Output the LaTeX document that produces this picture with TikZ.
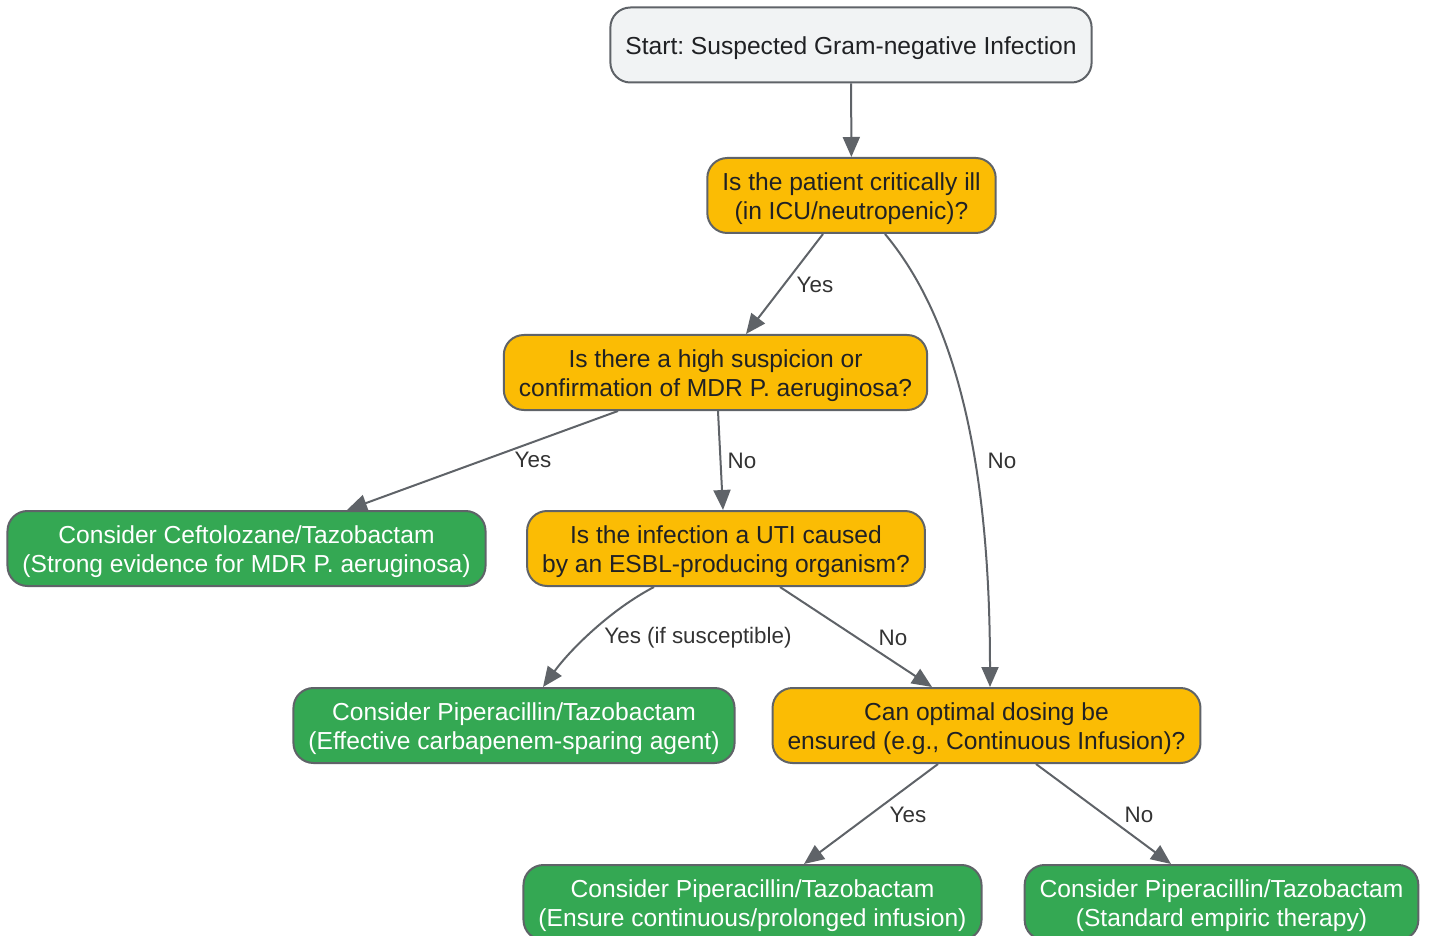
\documentclass[tikz,border=0pt]{standalone}
\usepackage{fontspec}
\setmainfont{Liberation Sans}
\usepackage{tikz}
\usetikzlibrary{arrows.meta}
\definecolor{edgegray}{HTML}{5F6368}
\definecolor{startgray}{HTML}{F1F3F4}
\definecolor{askyellow}{HTML}{FBBC04}
\definecolor{drugreen}{HTML}{34A853}
\definecolor{darktext}{HTML}{202124}
\definecolor{labeltext}{HTML}{333333}
\frenchspacing
% taller first line, so the text sits a little lower in its box
\newcommand{\toprow}{\rule{0pt}{12.4pt}}

\begin{document}
\begin{tikzpicture}[x=0.5pt, y=-0.5pt,
    box/.style={draw=edgegray, line width=1pt, rounded corners=10pt, minimum height=37.5pt,
        inner xsep=7.5pt, align=center, text=darktext, font=\fontsize{12.3}{14.5}\selectfont},
    startbox/.style={box, fill=startgray},
    askbox/.style={box, fill=askyellow},
    drugbox/.style={box, fill=drugreen, text=white},
    arr/.style={draw=edgegray, line width=1pt, -{Triangle[length=10pt, width=8.5pt]}},
    lbl/.style={text=labeltext, font=\fontsize{11.2}{13}\selectfont}]
    \useasboundingbox (0, 0) rectangle (1430, 936);

    % Start and questions
    \node[startbox] (start) at (851, 45) {\toprow Start: Suspected Gram-negative Infection};
    \node[askbox] (ill) at (851.5, 195.5) {\toprow Is the patient critically ill\\(in ICU/neutropenic)?};
    \node[askbox] (mdr) at (715.5, 372.5) {\toprow Is there a high suspicion or\\confirmation of MDR P. aeruginosa?};
    \node[askbox] (uti) at (726, 548.5) {\toprow Is the infection a UTI caused\\by an ESBL-producing organism?};
    \node[askbox] (dosing) at (986.5, 725.5) {\toprow Can optimal dosing be\\ensured (e.g., Continuous Infusion)?};

    % Recommendations
    \node[drugbox] (ceft) at (246.5, 548.5) {\toprow Consider Ceftolozane/Tazobactam\\(Strong evidence for MDR P. aeruginosa)};
    \node[drugbox] (piputi) at (514, 725.5) {\toprow Consider Piperacillin/Tazobactam\\(Effective carbapenem-sparing agent)};
    \node[drugbox] (pipinf) at (752.5, 902.5) {\toprow Consider Piperacillin/Tazobactam\\(Ensure continuous/prolonged infusion)};
    \node[drugbox] (pipstd) at (1221.5, 902.5) {\toprow Consider Piperacillin/Tazobactam\\(Standard empiric therapy)};

    % Connectors
    \draw[arr] (start) -- (ill);
    \draw[arr] ([xshift=-14.25pt]ill.south) -- ([xshift=15.25pt]mdr.north);
    \draw[arr] ([xshift=16.75pt]ill.south) .. controls (940, 300) and (990, 420) .. ([xshift=1.75pt]dosing.north);
    \draw[arr] ([xshift=-48.75pt]mdr.south) -- ([xshift=50.25pt]ceft.north);
    \draw[arr] ([xshift=1.25pt]mdr.south) -- ([xshift=-1.5pt]uti.north);
    \draw[arr] ([xshift=-36pt]uti.south) .. controls (610, 610) and (570, 650) .. ([xshift=14.5pt]piputi.north);
    \draw[arr] ([xshift=27pt]uti.south) -- ([xshift=-27.25pt]dosing.north);
    \draw[arr] ([xshift=-24.25pt]dosing.south) -- ([xshift=25.75pt]pipinf.north);
    \draw[arr] ([xshift=24.75pt]dosing.south) -- ([xshift=-25.25pt]pipstd.north);

    % Connector labels
    \node[lbl] (illyes) at (815, 285) {Yes};
    \node[lbl] (illno) at (1002, 461) {No};
    \node[lbl] (mdryes) at (533, 460) {Yes};
    \node[lbl] (mdrno) at (742, 461) {No};
    \node[lbl] (utiyes) at (698, 638) {Yes (if susceptible)};
    \node[lbl] (utino) at (893, 638) {No};
    \node[lbl] (dosyes) at (908, 815) {Yes};
    \node[lbl] (dosno) at (1139, 815) {No};
\end{tikzpicture}
\end{document}
